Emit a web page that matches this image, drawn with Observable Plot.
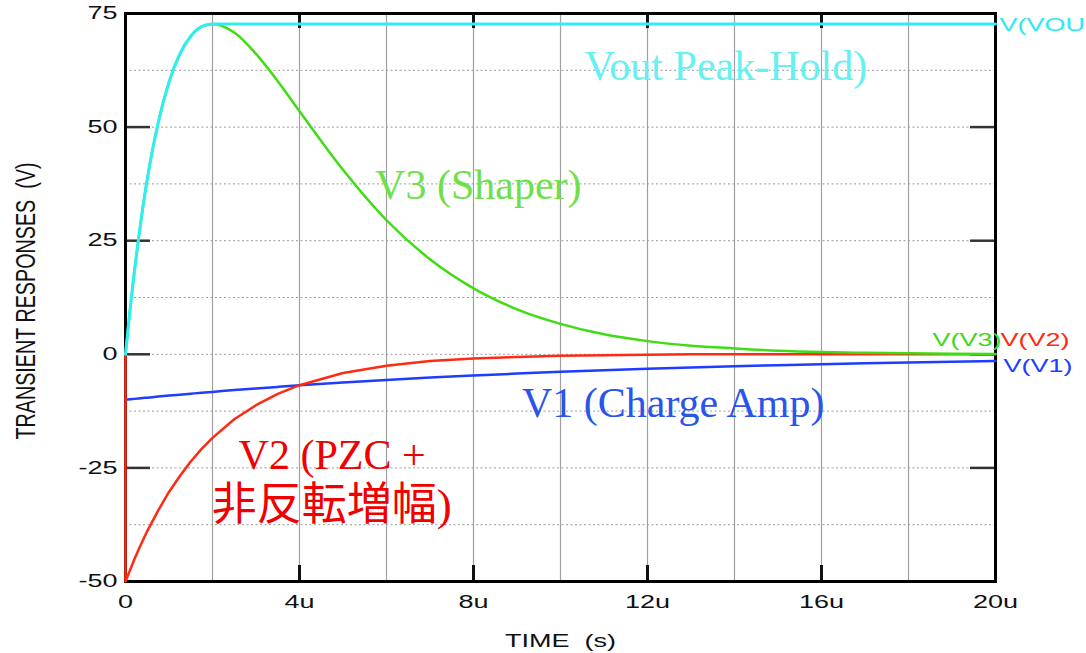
<!DOCTYPE html>
<html><head><meta charset="utf-8">
<script src="https://cdn.jsdelivr.net/npm/d3@7"></script>
<script src="https://cdn.jsdelivr.net/npm/@observablehq/plot@0.6"></script>
<style>body{margin:0;background:#fff;overflow:hidden;}</style>
</head><body><div id="chart"></div>
<script>
// time in microseconds
const time = [0,0.05,0.1,0.2,0.3,0.4,0.5,0.75,1,1.25,1.5,1.75,2,2.5,3,3.5,4,5,6,7,8,9,10,11,12,13,14,15,16,17,18,19,20];
const vout = [0,4.8,9.4,17.9,25.5,32.4,38.5,50.9,59.9,66.1,70.0,72.1,72.7,72.7,72.7,72.7,72.7,72.7,72.7,72.7,72.7,72.7,72.7,72.7,72.7,72.7,72.7,72.7,72.7,72.7,72.7,72.7,72.7];
const v3 = [0,4.8,9.4,17.9,25.5,32.4,38.5,50.9,59.9,66.1,70.0,72.1,72.7,70.8,66.1,60.1,53.5,40.6,29.5,20.9,14.5,9.9,6.7,4.4,2.9,1.9,1.3,0.8,0.5,0.34,0.22,0.14,0.09];
const v1 = [-10,-9.95,-9.9,-9.81,-9.72,-9.63,-9.54,-9.31,-9.09,-8.88,-8.67,-8.46,-8.27,-7.88,-7.52,-7.17,-6.83,-6.21,-5.65,-5.13,-4.67,-4.24,-3.86,-3.51,-3.19,-2.90,-2.64,-2.40,-2.18,-1.98,-1.80,-1.64,-1.49];
const v2Time = [0].concat(time);
const v2 = [0,-50,-48.8,-47.6,-45.2,-43.0,-40.9,-38.9,-34.4,-30.3,-26.8,-23.6,-20.8,-18.4,-14.3,-11.2,-8.7,-6.8,-4.1,-2.5,-1.5,-0.9,-0.6,-0.3,-0.2,-0.1,0,0,0,0,0,0,0,0];

const xTicks = [0,4,8,12,16,20];
const xTickLabels = ["0","4u","8u","12u","16u","20u"];
const xMajorInner = [4,8,12,16];
const xGrid = [2,4,6,8,10,12,14,16,18];
const yTicks = [-50,-25,0,25,50,75];
const yTickLabels = ["-50","-25","0","25","50","75"];
const yGrid = [-37.5,-25,-12.5,0,12.5,25,37.5,50,62.5];

const xTitle = ["TIME\u00a0\u00a0(s)"];
const yTitle = ["TRANSIENT RESPONSES\u00a0\u00a0(V)"];

// annotations (t in µs, value in V)
const annVout = [{t: 13.8, v: 63.4, label: "Vout Peak-Hold)"}];
const annV3 = [{t: 8.11, v: 37.2, label: "V3 (Shaper)"}];
const annV1 = [{t: 12.59, v: -10.8, label: "V1 (Charge Amp)"}];
const annV2a = [{t: 4.75, v: -22.2, label: "V2 (PZC +"}];
const annV2b = [{t: 4.74, v: -33.3, label: "非反転増幅)"}];

// end labels
const endVout = [{t: 20, v: 72.7, label: "V(VOU"}];
const endV3 = [{t: 20, v: 0, label: "V(V3)"}];
const endV2 = [{t: 20, v: 0, label: "V(V2)"}];
const endV1 = [{t: 20, v: -1.49, label: "V(V1)"}];

const rows = (ts, vs) => ts.map((t, i) => ({t, v: vs[i]}));

const SANS = "Liberation Sans, Arial, sans-serif";
const SERIF = "Liberation Serif, Noto Sans CJK JP, serif";

const chart = Plot.plot({
  width: 1086,
  height: 653,
  marginLeft: 125,
  marginRight: 91,
  marginTop: 13,
  marginBottom: 72,
  style: {background: "#fff", fontFamily: SANS},
  x: {domain: [0, 20]},
  y: {domain: [-50, 75]},
  marks: [
    Plot.ruleX(xGrid, {x: d => d, stroke: "#a0a0a0", strokeWidth: 1.2}),
    Plot.ruleY(yGrid, {y: d => d, stroke: "#9a9a9a", strokeWidth: 1, strokeDasharray: "2,2.5"}),
    Plot.tickY(yTicks, {y: d => d, insetRight: 845, stroke: "#333", strokeWidth: 2.5}),
    Plot.tickY(yTicks, {y: d => d, insetLeft: 845, stroke: "#333", strokeWidth: 2.5}),
    Plot.tickX(xMajorInner, {x: d => d, insetTop: 552, stroke: "#111", strokeWidth: 3}),
    Plot.tickX(xMajorInner, {x: d => d, insetBottom: 553, stroke: "#111", strokeWidth: 3}),
    Plot.frame({stroke: "#000", strokeWidth: 3}),
    Plot.axisX({ticks: xTicks, tickFormat: d => xTickLabels[xTicks.indexOf(d)], tickSize: 0, tickPadding: 14,
      fontSize: 18, fontFamily: SANS, fill: "#111", label: null}),
    Plot.axisY({ticks: yTicks, tickFormat: d => yTickLabels[yTicks.indexOf(d)], tickSize: 0, tickPadding: 8,
      fontSize: 18, fontFamily: SANS, fill: "#111", label: null}),
    Plot.text(xTitle, {frameAnchor: "bottom", text: d => d, dy: 60, fontSize: 18, fontFamily: SANS, fill: "#111", lineAnchor: "middle"}),
    Plot.text(yTitle, {frameAnchor: "left", text: d => d, dx: -99, dy: 142, rotate: -90, textAnchor: "start", fontSize: 27, fontFamily: SANS, fill: "#111", lineAnchor: "middle"}),
    Plot.line(rows(time, v1), {x: "t", y: "v", stroke: "#1f3cff", strokeWidth: 2.5, curve: "monotone-x"}),
    Plot.line(rows(v2Time, v2), {x: "t", y: "v", stroke: "#ff2a14", strokeWidth: 2.5, curve: "linear"}),
    Plot.line(rows(time, v3), {x: "t", y: "v", stroke: "#3fdc14", strokeWidth: 2.5, curve: "monotone-x"}),
    Plot.line(rows(time, vout), {x: "t", y: "v", stroke: "#2eeef2", strokeWidth: 3, curve: "monotone-x"}),
    Plot.text(annVout, {x: "t", y: "v", text: "label", fill: "#66f0f0", fontSize: 42, fontFamily: SERIF}),
    Plot.text(annV3, {x: "t", y: "v", text: "label", fill: "#6ee04a", fontSize: 42, fontFamily: SERIF}),
    Plot.text(annV1, {x: "t", y: "v", text: "label", fill: "#2a55e8", fontSize: 42, fontFamily: SERIF}),
    Plot.text(annV2a, {x: "t", y: "v", text: "label", fill: "#f00000", fontSize: 42, fontFamily: SERIF}),
    Plot.text(annV2b, {x: "t", y: "v", text: "label", fill: "#f00000", fontSize: 45, fontFamily: SERIF}),
    Plot.text(endVout, {x: "t", y: "v", text: "label", fill: "#2ee8f0", fontSize: 18, fontFamily: SANS, textAnchor: "start", dx: 4, dy: 1}),
    Plot.text(endV3, {x: "t", y: "v", text: "label", fill: "#3fd81a", fontSize: 18, fontFamily: SANS, textAnchor: "end", dx: 6, dy: -14}),
    Plot.text(endV2, {x: "t", y: "v", text: "label", fill: "#ff2a10", fontSize: 18, fontFamily: SANS, textAnchor: "start", dx: 5, dy: -14}),
    Plot.text(endV1, {x: "t", y: "v", text: "label", fill: "#2040ff", fontSize: 18, fontFamily: SANS, textAnchor: "start", dx: 8, dy: 5})
  ]
});

document.getElementById("chart").appendChild(chart);

// the reference's sans labels are widened ~1.5x horizontally
d3.select(chart).selectAll("text").each(function() {
  const g = this.closest("g[font-family]");
  const fam = g ? g.getAttribute("font-family") : "";
  if (fam.includes("Serif")) return;
  const L = this.getComputedTextLength();
  if (!(L > 0)) return;
  const target = this.textContent.startsWith("TRANSIENT") ? 277 : L * 1.5;
  this.setAttribute("textLength", target);
  this.setAttribute("lengthAdjust", "spacingAndGlyphs");
});
</script>
</body></html>
